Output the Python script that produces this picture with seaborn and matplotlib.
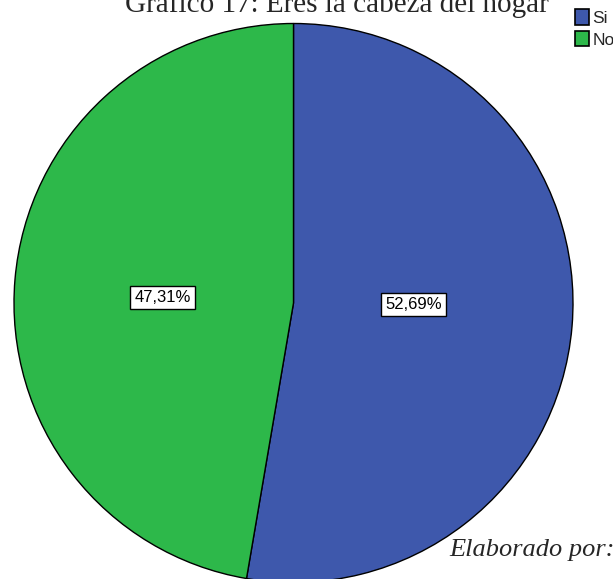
import matplotlib
matplotlib.use("Agg")
import matplotlib.pyplot as plt
import seaborn as sns
from matplotlib.patches import Patch

categories = ["Si", "No"]
percentages = [52.69, 47.31]
colors = ["#3e58ac", "#2db84a"]
title = "Gráfico 17: Eres la cabeza del hogar"
note = "Elaborado por:"

sns.set_style("white")
plt.rcParams['font.family'] = ['Liberation Sans', 'DejaVu Sans']

W, H = 613, 579
fig = plt.figure(figsize=(W / 100, H / 100), dpi=100)
cx, cy, r = 293.5, 303, 279.5
ax = fig.add_axes([(cx - r) / W, (H - cy - r) / H, 2 * r / W, 2 * r / H])

wedges, texts, autotexts = ax.pie(
    percentages, colors=colors, startangle=90, counterclock=False,
    autopct=lambda p: f"{p:.2f}%".replace(".", ","),
    wedgeprops=dict(edgecolor="black", linewidth=1.0),
    textprops=dict(fontsize=12, color="black"),
)
# SPSS-style label positions
label_pos = [(0.43, -0.005), (-0.468, 0.02)]
for t, pos in zip(autotexts, label_pos):
    t.set_position(pos)
    t.set_bbox(dict(facecolor="white", edgecolor="black", linewidth=1.0, pad=0.25, boxstyle="square"))
ax.set_xlim(-1, 1)
ax.set_ylim(-1, 1)
ax.set_aspect("auto")
ax.axis("off")

fig.text(337 / W, 1 - 12 / H, title, ha="center", va="baseline",
         fontsize=21, family="Liberation Serif")

handles = [Patch(facecolor=c, edgecolor="black", linewidth=1.2) for c in colors]
fig.legend(handles, categories, loc="upper left", bbox_to_anchor=(575 / W, 1 - 9 / H),
           frameon=False, fontsize=12.5, handlelength=0.8, handleheight=1.0,
           handletextpad=0.2, labelspacing=0.3, borderaxespad=0, borderpad=0)

fig.text(449 / W, 1 - 556 / H, note, ha="left", va="baseline",
         fontsize=19, family="Liberation Serif", style="italic")

fig.savefig("out.png", dpi=100)
